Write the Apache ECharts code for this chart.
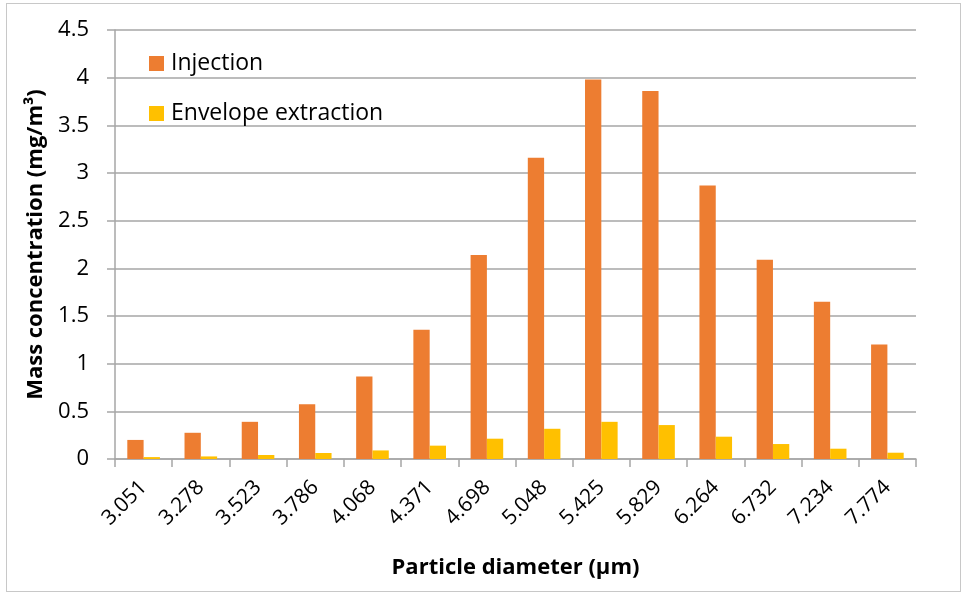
<!DOCTYPE html>
<html>
<head>
<meta charset="utf-8">
<script src="https://cdn.jsdelivr.net/npm/echarts@6/dist/echarts.min.js"></script>
<style>
  html, body { margin: 0; padding: 0; background: #fff; }
  #frame { position: absolute; left: 6px; top: 3px; width: 955px; height: 589px; border: 1px solid #c8c8c8; box-sizing: border-box; }
  #chart { position: absolute; left: 0; top: 0; width: 965px; height: 595px; }
</style>
</head>
<body>
<div id="frame"></div>
<div id="chart"></div>
<script>
// Particle diameter classes (µm)
const diameters = ['3.051', '3.278', '3.523', '3.786', '4.068', '4.371', '4.698',
                   '5.048', '5.425', '5.829', '6.264', '6.732', '7.234', '7.774'];
// Mass concentration (mg/m³)
const injection = [0.20, 0.275, 0.39, 0.575, 0.865, 1.355, 2.14,
                   3.16, 3.98, 3.86, 2.87, 2.09, 1.65, 1.20];
const envelopeExtraction = [0.02, 0.027, 0.042, 0.063, 0.09, 0.14, 0.213,
                            0.317, 0.39, 0.356, 0.234, 0.157, 0.108, 0.066];
const yTicks = { min: 0, max: 4.5, step: 0.5 };

const FONT = '"Open Sans", Lato, sans-serif';
const chart = echarts.init(document.getElementById('chart'), null, { renderer: 'canvas' });

chart.setOption({
  animation: false,
  backgroundColor: 'transparent',
  textStyle: { fontFamily: FONT, color: '#000' },
  grid: { left: 115, right: 49, top: 30, bottom: 136, containLabel: false },
  legend: {
    orient: 'vertical',
    left: 149,
    top: 52,
    padding: 0,
    itemWidth: 15,
    itemHeight: 15,
    itemGap: 27,
    icon: 'rect',
    textStyle: { fontFamily: FONT, fontSize: 23, color: '#000', padding: [0, 0, 0, 2] },
    data: ['Injection', 'Envelope extraction']
  },
  xAxis: {
    type: 'category',
    data: diameters,
    name: 'Particle diameter (µm)',
    nameLocation: 'middle',
    nameGap: 98,
    nameTextStyle: { fontFamily: FONT, fontSize: 22, fontWeight: 'bold', color: '#000' },
    axisLine: { lineStyle: { color: '#a6a6a6', width: 1.5 } },
    axisTick: { show: true, length: 8, alignWithLabel: false, lineStyle: { color: '#a6a6a6', width: 1.5 } },
    axisLabel: { rotate: 45, margin: 25, fontSize: 21, color: '#000', fontFamily: FONT, interval: 0 },
    splitLine: { show: false }
  },
  yAxis: {
    type: 'value',
    min: yTicks.min,
    max: yTicks.max,
    interval: yTicks.step,
    name: 'Mass concentration (mg/m³)',
    nameLocation: 'middle',
    nameGap: 68,
    nameTextStyle: { fontFamily: FONT, fontSize: 22, fontWeight: 'bold', color: '#000' },
    axisLine: { show: true, lineStyle: { color: '#a6a6a6', width: 1.5 } },
    axisTick: { show: true, length: 8, lineStyle: { color: '#a6a6a6', width: 1.5 } },
    axisLabel: { fontSize: 22, margin: 26, color: '#000', fontFamily: FONT },
    splitLine: { show: true, lineStyle: { color: '#a6a6a6', width: 1.5 } }
  },
  series: [
    {
      name: 'Injection',
      type: 'bar',
      data: injection,
      itemStyle: { color: '#ED7D31' },
      barGap: '0%',
      barCategoryGap: '43%'
    },
    {
      name: 'Envelope extraction',
      type: 'bar',
      data: envelopeExtraction,
      itemStyle: { color: '#FFC000' },
      barGap: '0%',
      barCategoryGap: '43%'
    }
  ]
});
</script>
</body>
</html>
